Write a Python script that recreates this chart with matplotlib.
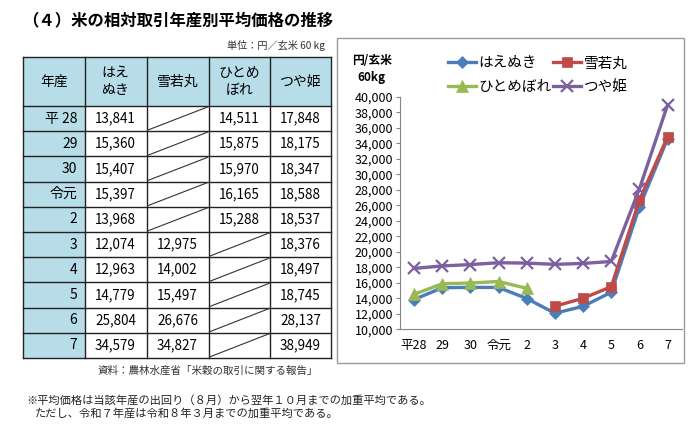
import matplotlib.pyplot as plt
from matplotlib.patches import Rectangle
import numpy as np

plt.rcParams['font.family'] = ['Noto Sans CJK JP', 'DejaVu Sans']

W, H = 699, 436

# data
years = ["平28", "29", "30", "令元", "2", "3", "4", "5", "6", "7"]
table_years = ["平 28", "29", "30", "令元", "2", "3", "4", "5", "6", "7"]
header = ["年産", "はえ\nぬき", "雪若丸", "ひとめ\nぼれ", "つや姫"]
names = ["はえぬき", "雪若丸", "ひとめぼれ", "つや姫"]
haenuki = [13841, 15360, 15407, 15397, 13968, 12074, 12963, 14779, 25804, 34579]
yukiwakamaru = [None, None, None, None, None, 12975, 14002, 15497, 26676, 34827]
hitomebore = [14511, 15875, 15970, 16165, 15288, None, None, None, None, None]
tsuyahime = [17848, 18175, 18347, 18588, 18537, 18376, 18497, 18745, 28137, 38949]
series = [haenuki, yukiwakamaru, hitomebore, tsuyahime]

colors = ["#4a7ebb", "#be4b48", "#98b954", "#7d60a0"]
markers = ["D", "s", "^", "x"]
msizes = [6.5, 7.5, 8, 8]

fig = plt.figure(figsize=(W / 100, H / 100), dpi=100)

# background layer in pixel coords
bg = fig.add_axes([0, 0, 1, 1])
bg.set_xlim(0, W)
bg.set_ylim(H, 0)
bg.axis("off")

bg.text(22, 20.5, "（４）米の相対取引年産別平均価格の推移", fontsize=11.8,
        fontweight="bold", ha="left", va="center")
bg.text(325, 45, "単位：円／玄米 60 kg", fontsize=7.3, ha="right", va="center",
        color="#333333")

# table
col_x = [23, 84.5, 146.5, 208.5, 270, 331]
top, head_bot, row_h = 57, 106, 25.2
blue = "#b7dde8"
n_rows = len(table_years)
bottom = head_bot + row_h * n_rows

bg.add_patch(Rectangle((col_x[0], top), col_x[-1] - col_x[0], head_bot - top,
                       facecolor=blue, edgecolor="none"))
bg.add_patch(Rectangle((col_x[0], head_bot), col_x[1] - col_x[0], bottom - head_bot,
                       facecolor=blue, edgecolor="none"))
for x in col_x:
    bg.plot([x, x], [top, bottom], color="#222222", lw=1)
bg.plot([col_x[0], col_x[-1]], [top, top], color="#222222", lw=1)
for i in range(n_rows + 1):
    y = head_bot + i * row_h
    bg.plot([col_x[0], col_x[-1]], [y, y], color="#222222", lw=1)

for j, h in enumerate(header):
    cx = (col_x[j] + col_x[j + 1]) / 2
    bg.text(cx, (top + head_bot) / 2, h, fontsize=10, ha="center", va="center",
            linespacing=1.35)

for i in range(n_rows):
    y0 = head_bot + i * row_h
    yc = y0 + row_h / 2
    bg.text(col_x[1] - 7, yc, table_years[i], fontsize=10, ha="right", va="center")
    for j, s in enumerate(series):
        x0, x1 = col_x[j + 1], col_x[j + 2]
        v = s[i]
        if v is None:
            bg.plot([x0 + 1, x1 - 1], [y0 + row_h - 1, y0 + 1], color="#333333", lw=0.8)
        else:
            bg.text((x0 + x1) / 2, yc, f"{v:,}", fontsize=9.7, ha="center", va="center")

bg.text(208, 371, "資料：農林水産省「米穀の取引に関する報告」", fontsize=7.6,
        ha="center", va="center", color="#333333")
bg.text(26, 400, "※平均価格は当該年産の出回り（８月）から翌年１０月までの加重平均である。",
        fontsize=8.1, ha="left", va="center", color="#222222")
bg.text(35, 413, "ただし、令和７年産は令和８年３月までの加重平均である。",
        fontsize=8.1, ha="left", va="center", color="#222222")

# chart frame
bg.add_patch(Rectangle((337, 38), 684 - 337, 362.5 - 38, facecolor="white",
                       edgecolor="#9a9a9a", lw=1))
bg.text(371.5, 69, "円/玄米\n60kg", fontsize=8.5, fontweight="bold",
        ha="center", va="center", linespacing=1.3)

ax = fig.add_axes([400 / W, 1 - 329.3 / H, 281.7 / W, 232.6 / H])
ax.set_facecolor("none")
x = np.arange(len(years))
handles = []
for s, name, c, m, ms in zip(series, names, colors, markers, msizes):
    vals = np.array(s, dtype=float)
    (ln,) = ax.plot(x, vals, color=c, lw=2.4, marker=m, markersize=ms,
                    markeredgewidth=1.6 if m == "x" else 0.5, label=name)
    handles.append(ln)

ax.set_xlim(-0.5, len(years) - 0.5)
ax.set_ylim(10000, 40000)
ax.set_yticks(np.arange(10000, 40001, 2000))
ax.set_yticklabels([f"{v:,}" for v in range(10000, 40001, 2000)])
ax.set_xticks(x)
ax.set_xticklabels(years)
ax.tick_params(axis="y", length=3, width=0.8, color="#868686", pad=2, labelsize=9)
ax.tick_params(axis="x", length=0, pad=7, labelsize=9)
for side in ["top", "right"]:
    ax.spines[side].set_visible(False)
for side in ["left", "bottom"]:
    ax.spines[side].set_color("#868686")
    ax.spines[side].set_linewidth(0.8)

order = [0, 2, 1, 3]
fig.legend([handles[i] for i in order], [names[i] for i in order], loc="center",
           bbox_to_anchor=(538 / W, 1 - 75 / H), ncol=2, frameon=False,
           fontsize=10.5, handlelength=1.9, handletextpad=0.2, columnspacing=0.1,
           labelspacing=0.65, borderpad=0.1)

fig.savefig("out.png", dpi=100)
